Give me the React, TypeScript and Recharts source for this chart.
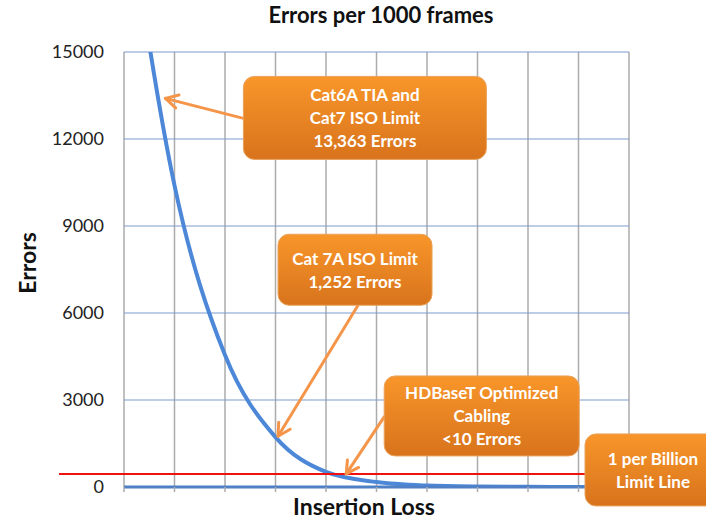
import React from 'react'
import { LineChart, Line, XAxis, YAxis, CartesianGrid, ReferenceLine, ReferenceDot } from 'recharts'

// insertion loss steps (unitless, no axis labels in the original)
const steps = [0, 1, 2, 3, 4, 5, 6, 7, 8, 9, 10]
// errors per 1000 frames
const errors = [21000, 10400, 4550, 1720, 520, 170, 50, 15, 5, 2, 1]
const yTicks = [0, 3000, 6000, 9000, 12000, 15000]
const limitLine = 450

const notes = [
  { x: 0.82, y: 13400, lines: ['Cat6A TIA and', 'Cat7 ISO Limit', '13,363 Errors'] },
  { x: 3.05, y: 1750, lines: ['Cat 7A ISO Limit', '1,252 Errors'] },
  { x: 4.4, y: 450, lines: ['HDBaseT Optimized', 'Cabling', '<10 Errors'] },
  { x: 10, y: 450, lines: ['1 per Billion', 'Limit Line'] },
]

const data = steps.map((s, i) => ({ step: s, errors: errors[i] }))

const FONT = 'Lato, "Open Sans", sans-serif'
const ARROW = '#F5954A'

// box geometry relative to the arrow tip: [left, top, width, height, arrowStartX, arrowStartY]
const boxes: number[][] = [
  [78, -22, 243, 83, 78, 20],
  [0, -202, 154, 71, 80, -131],
  [38, -98, 195, 80, 38, -57],
  [-44, -40, 140, 72, NaN, NaN],
]

function Arrow({ x1, y1, x2, y2 }: { x1: number; y1: number; x2: number; y2: number }) {
  const a = Math.atan2(y1 - y2, x1 - x2)
  const h = 14, spread = 0.5
  const p1 = [x2 + h * Math.cos(a + spread), y2 + h * Math.sin(a + spread)]
  const p2 = [x2 + h * Math.cos(a - spread), y2 + h * Math.sin(a - spread)]
  return (
    <g stroke={ARROW} strokeWidth={3} fill="none" strokeLinecap="round" strokeLinejoin="round">
      <line x1={x1} y1={y1} x2={x2} y2={y2} />
      <polyline points={`${p1[0]},${p1[1]} ${x2},${y2} ${p2[0]},${p2[1]}`} />
    </g>
  )
}

function noteShape(i: number) {
  return (p: any) => {
    const { cx, cy } = p
    const [bx, by, bw, bh, ax, ay] = boxes[i]
    const lines = notes[i].lines
    const lh = 23
    const tx = cx + bx + bw / 2 + (i === 3 ? -2 : 0)
    const ty0 = cy + by + bh / 2 - ((lines.length - 1) * lh) / 2
    return (
      <g>
        <defs>
          <linearGradient id={`boxg${i}`} x1="0" y1="0" x2="0" y2="1">
            <stop offset="0%" stopColor="#F8962A" />
            <stop offset="100%" stopColor="#D8731C" />
          </linearGradient>
        </defs>
        {!isNaN(ax) && <Arrow x1={cx + ax} y1={cy + ay} x2={cx} y2={cy} />}
        <rect x={cx + bx} y={cy + by} width={bw} height={bh} rx={11} fill={`url(#boxg${i})`} stroke="#E9A25C" strokeWidth={1} />
        {lines.map((t, k) => (
          <text key={k} x={tx} y={ty0 + k * lh} textAnchor="middle" dominantBaseline="central"
            fill="#fff" fontFamily={FONT} fontWeight={700} fontSize={17}>{t}</text>
        ))}
      </g>
    )
  }
}

export default function App() {
  return (
    <div style={{ position: 'absolute', left: 0, top: 0, width: 706, height: 519, background: '#fff', fontFamily: FONT }}>
      <div style={{ position: 'absolute', left: 0, width: 762, top: 1, textAlign: 'center', fontWeight: 700, fontSize: 22, color: '#111' }}>
        Errors per 1000 frames
      </div>
      <div style={{ position: 'absolute', left: 364, top: 495, transform: 'translateX(-50%)', fontWeight: 700, fontSize: 23, lineHeight: '23px', color: '#111', whiteSpace: 'nowrap' }}>
        Insertion Loss
      </div>
      <div style={{ position: 'absolute', left: 27, top: 263, transform: 'translate(-50%,-50%) rotate(-90deg)', fontWeight: 700, fontSize: 23, color: '#111' }}>
        Errors
      </div>
      <LineChart width={706} height={519} data={data} margin={{ top: 52, right: 77, bottom: 0, left: 0 }}>
        <CartesianGrid horizontal={false} vertical stroke="#ABABAB" strokeWidth={1.5} />
        <CartesianGrid vertical={false} horizontal stroke="#7F9BD0" strokeWidth={1.2} />
        <XAxis dataKey="step" type="number" domain={[0, 10]} ticks={steps} tickFormatter={() => ''}
          axisLine={{ stroke: '#4F7FC4', strokeWidth: 3 }} tickLine={{ stroke: '#ABABAB', strokeWidth: 1.5 }} tickSize={5} height={32} />
        <YAxis type="number" domain={[0, 15000]} ticks={yTicks} allowDataOverflow width={124}
          axisLine={false} tickLine={false} tickSize={0} tickMargin={20}
          tick={{ fill: '#222', fontSize: 18, fontFamily: FONT }} />
        <Line type="monotone" dataKey="errors" stroke="#4D88D8" strokeWidth={4} dot={false} isAnimationActive={false} />
        <ReferenceLine y={limitLine} stroke="#F01010" strokeWidth={2}
          shape={(p: any) => <line x1={p.x1 - 65} y1={p.y1} x2={p.x2 + 20} y2={p.y2} stroke="#F01010" strokeWidth={2} />} />
        {notes.map((n, i) => (
          <ReferenceDot key={i} x={n.x} y={n.y} r={0} ifOverflow="visible" shape={noteShape(i)} />
        ))}
      </LineChart>
    </div>
  )
}
